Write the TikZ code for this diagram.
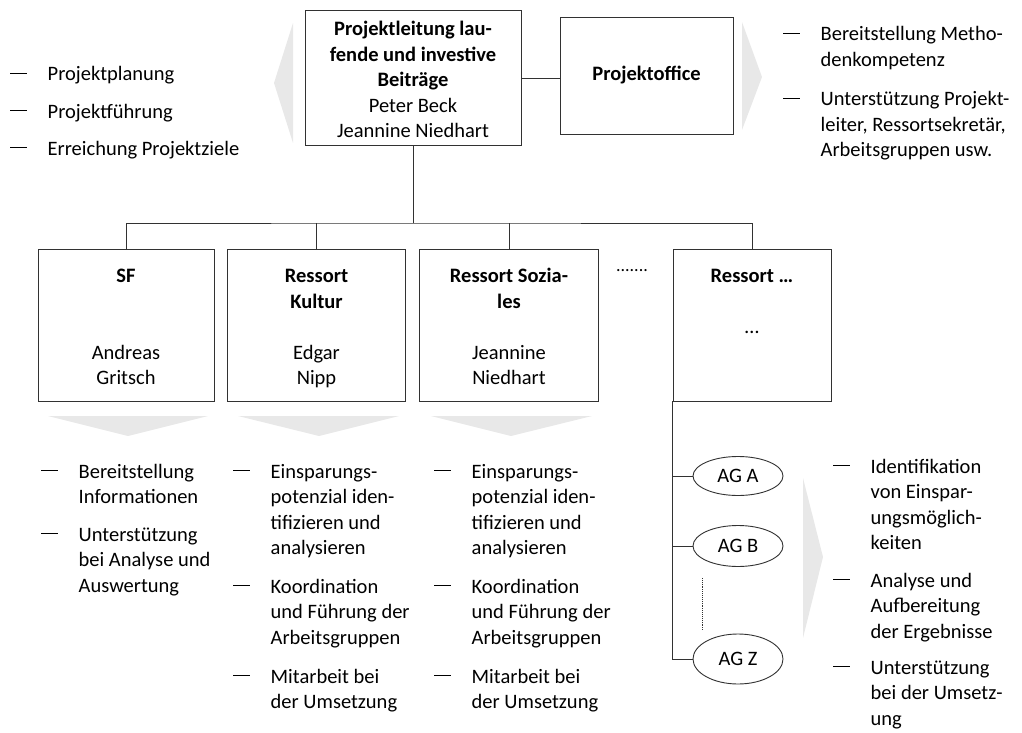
\documentclass[tikz,border=0pt]{standalone}
\usepackage{fontspec}
\setmainfont{Carlito}
\usepackage{tikz}
\usetikzlibrary{shapes.geometric, calc, positioning}

\definecolor{pfeilgrau}{RGB}{232,232,232}
\definecolor{linie}{RGB}{50,50,50}

% Aufzaehlungspunkt mit Strich
\newcommand{\punkt}[1]{\makebox[38.5pt][l]{\hspace{1pt}\raisebox{7pt}{\rule{17pt}{1.4pt}}}\begin{tabular}[t]{@{}l@{}}#1\end{tabular}}
% erhoehte erste Zeile in den Kaesten
\newcommand{\oben}{\rule{0pt}{25.5pt}}

\begin{document}
\begin{tikzpicture}[
    x=1pt, y=-1pt,
    font=\fontsize{20.5}{25.5}\selectfont,
    leitungsbox/.style={rectangle, draw=linie, line width=0.9pt, fill=white, align=center, inner sep=0pt},
    ressortbox/.style={rectangle, draw=linie, line width=0.9pt, fill=white, align=center, inner sep=0pt, minimum height=152pt},
    agform/.style={ellipse, draw=linie, line width=0.9pt, fill=white, minimum width=90pt, inner sep=0pt},
    listenpunkt/.style={anchor=base west, inner sep=0pt},
    verbindung/.style={draw=linie, line width=0.9pt},
    chevron/.style={fill=pfeilgrau}
]
\useasboundingbox (0,0) rectangle (1022,733);

% Pfeile (grau)
\fill[chevron] (293,23) -- (274,83) -- (293,143) -- cycle;
\fill[chevron] (742,22) -- (762,77) -- (742,130) -- cycle;
\fill[chevron] (48,416) -- (208,416) -- (128,436) -- cycle;
\fill[chevron] (238,416) -- (399,416) -- (319,436) -- cycle;
\fill[chevron] (431,416) -- (592,416) -- (511,436) -- cycle;
\fill[chevron] (803,478) -- (823,557) -- (803,638) -- cycle;

% Projektleitung und Projektoffice
\node[leitungsbox, minimum width=216pt, minimum height=132pt] (leitung) at (413,78) {\oben\textbf{Projektleitung lau-}\\\textbf{fende und investive}\\\textbf{Beiträge}\\Peter Beck\\Jeannine Niedhart\strut};
\node[leitungsbox, minimum width=173pt, minimum height=117pt] (office) at (646.5,75.5) {\textbf{Projektoffice}};

% Ressorts
\node[ressortbox, minimum width=176pt] (sf) at (126,325) {\oben\textbf{SF}\\\mbox{}\\\mbox{}\\Andreas\\Gritsch\strut};
\node[ressortbox, minimum width=178pt] (kultur) at (316.5,325) {\oben\textbf{Ressort}\\\textbf{Kultur}\\\mbox{}\\Edgar\\Nipp\strut};
\node[ressortbox, minimum width=179pt] (soziales) at (509,325) {\oben\textbf{Ressort Sozia-}\\\textbf{les}\\\mbox{}\\Jeannine\\Niedhart\strut};
\node[ressortbox, minimum width=158pt] (weitere) at (752,325) {\oben\textbf{Ressort …}\\\mbox{}\\…\\\mbox{}\\\mbox{}\strut};
\node[font=\fontsize{18}{20}\selectfont, anchor=base, inner sep=0pt] (punkte) at (632,271) {.......};

% Arbeitsgruppen
\node[agform, minimum height=39pt] (aga) at (738,476) {AG A};
\node[agform, minimum height=41pt] (agb) at (738,546) {AG B};
\node[agform, minimum height=50pt] (agz) at (738,659) {AG Z};

% Verbindungen
\coordinate (bus) at (413,223);
\draw[verbindung] (leitung.east) -- (leitung.east -| office.west);
\draw[verbindung] (leitung.south) -- (bus);
\draw[verbindung] (sf.north) |- (bus) -| (weitere.north);
\draw[verbindung] (kultur.north) -- (kultur.north |- bus);
\draw[verbindung] (soziales.north) -- (soziales.north |- bus);
\draw[verbindung] (weitere.south west) |- (agz.west);
\draw[verbindung] (aga.west) -- (aga.west -| weitere.west);
\draw[verbindung] (agb.west) -- (agb.west -| weitere.west);
\draw[verbindung, densely dotted] ([xshift=-36pt,yshift=-11pt]agb.south) -- ([xshift=-36pt,yshift=4pt]agz.north);

% Aufgaben Projektleitung
\node[listenpunkt] (pl1) at (9,81) {\punkt{Projektplanung}};
\node[listenpunkt] (pl2) at (9,118) {\punkt{Projektführung}};
\node[listenpunkt] (pl3) at (9,155) {\punkt{Erreichung Projektziele}};

% Aufgaben Projektoffice
\node[listenpunkt] (po1) at (782,41) {\punkt{Bereitstellung Metho-\\denkompetenz}};
\node[listenpunkt] (po2) at (782,106) {\punkt{Unterstützung Projekt-\\leiter, Ressortsekretär,\\Arbeitsgruppen usw.}};

% Aufgaben SF
\node[listenpunkt] (sf1) at (40,478) {\punkt{Bereitstellung\\Informationen}};
\node[listenpunkt] (sf2) at (40,541) {\punkt{Unterstützung\\bei Analyse und\\Auswertung}};

% Aufgaben Ressorts
\node[listenpunkt] (ku1) at (232,478) {\punkt{Einsparungs-\\potenzial iden-\\tifizieren und\\analysieren}};
\node[listenpunkt] (ku2) at (232,593) {\punkt{Koordination\\und Führung der\\Arbeitsgruppen}};
\node[listenpunkt] (ku3) at (232,683) {\punkt{Mitarbeit bei\\der Umsetzung}};
\node[listenpunkt] (so1) at (433,478) {\punkt{Einsparungs-\\potenzial iden-\\tifizieren und\\analysieren}};
\node[listenpunkt] (so2) at (433,593) {\punkt{Koordination\\und Führung der\\Arbeitsgruppen}};
\node[listenpunkt] (so3) at (433,683) {\punkt{Mitarbeit bei\\der Umsetzung}};

% Aufgaben Arbeitsgruppen
\node[listenpunkt] (ag1) at (832,473) {\punkt{Identifikation\\von Einspar-\\ungsmöglich-\\keiten}};
\node[listenpunkt] (ag2) at (832,587) {\punkt{Analyse und\\Aufbereitung\\der Ergebnisse}};
\node[listenpunkt] (ag3) at (832,674) {\punkt{Unterstützung\\bei der Umsetz-\\ung}};

\end{tikzpicture}
\end{document}
